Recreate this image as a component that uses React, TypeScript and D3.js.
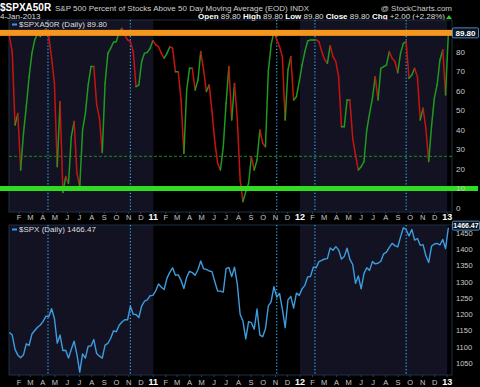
import React, { useEffect } from 'react';
import * as d3 from 'd3';

// weekly closes, Friday Jan 8 2010 .. Friday Jan 4 2013
const firstWeek = new Date(2010, 0, 8);

const breadthValues = [
  87.9, 80.2, 42.5, 48.5, 19.5, 38.3, 52.0, 67.3, 79.3, 86.2, 89.2, 87.9, 90.4, 91.8, 87.9, 76.8,
  63.9, 21.2, 54.5, 7.9, 16.1, 12.6, 36.6, 44.3, 17.8, 10.9, 40.0, 48.5, 63.1, 72.5, 72.5, 53.3,
  46.0, 28.4, 63.9, 79.3, 82.0, 85.0, 85.3, 90.4, 92.1, 88.7, 86.2, 85.3, 80.2, 62.2, 63.1, 75.1,
  79.3, 79.8, 81.9, 85.8, 83.6, 82.7, 79.3, 76.8, 79.3, 82.7, 81.9, 69.9, 69.9, 55.4, 28.0, 60.5,
  71.6, 71.6, 60.5, 65.6, 80.2, 70.8, 59.7, 63.1, 49.4, 34.0, 22.9, 19.5, 31.4, 53.7, 72.5, 45.1,
  63.9, 45.1, 14.4, 3.3, 8.4, 12.6, 26.3, 19.5, 24.6, 40.0, 33.2, 31.4, 69.9, 83.6, 90.4, 86.2,
  82.7, 77.6, 45.1, 70.8, 77.6, 55.4, 57.1, 64.8, 73.3, 80.2, 85.6, 86.2, 86.2, 86.2, 85.3, 80.2,
  76.2, 74.2, 83.2, 77.6, 75.1, 67.3, 41.7, 41.7, 55.4, 55.4, 35.7, 27.2, 19.5, 21.2, 23.8, 40.0,
  48.5, 56.2, 67.3, 55.4, 71.6, 72.5, 73.3, 80.2, 76.8, 75.1, 69.4, 79.3, 84.4, 85.3, 66.5, 68.2,
  71.6, 67.3, 45.1, 51.1, 40.9, 23.8, 41.7, 56.2, 63.1, 75.9, 81.0, 58.0, 89.8,
];

const spxValues = [
  1144, 1136, 1092, 1074, 1066, 1075, 1109, 1104, 1139, 1150, 1160, 1167, 1178, 1194, 1192, 1217,
  1187, 1111, 1136, 1088, 1089, 1065, 1092, 1117, 1076, 1022, 1078, 1065, 1102, 1102, 1122, 1079,
  1071, 1065, 1105, 1110, 1126, 1149, 1146, 1166, 1176, 1183, 1183, 1225, 1200, 1199, 1190, 1225,
  1240, 1244, 1257, 1258,
  1272, 1293, 1283, 1276, 1311, 1329, 1343, 1320, 1321, 1304, 1279, 1314, 1332, 1328, 1320, 1337,
  1364, 1340, 1338, 1333, 1331, 1300, 1271, 1271, 1268, 1340, 1344, 1316, 1345, 1292, 1199, 1179,
  1124, 1177, 1174, 1154, 1216, 1136, 1131, 1155, 1225, 1238, 1285, 1253, 1264, 1216, 1159, 1244,
  1255, 1219, 1265, 1258,
  1278, 1289, 1315, 1316, 1345, 1343, 1362, 1366, 1370, 1371, 1404, 1397, 1408, 1398, 1370, 1378,
  1403, 1369, 1353, 1295, 1318, 1278, 1325, 1343, 1335, 1362, 1355, 1357, 1363, 1386, 1391, 1406,
  1418, 1411, 1407, 1438, 1466, 1460, 1441, 1461, 1428, 1433, 1412, 1414, 1380, 1359, 1409, 1416,
  1418, 1413, 1430, 1402, 1466.47,
];

const markerDates = ['2010-04-14', '2010-11-05', '2011-11-04', '2012-02-07', '2012-09-21'];
const breadthTicks = [0, 10, 20, 30, 40, 50, 60, 70, 80];
const spxTicks = [1050, 1100, 1150, 1200, 1250, 1300, 1350, 1400, 1450];
const overbought = 89.8;
const oversold = 10;
const supportLevel = 26.5;
const monthLetters = ['J', 'F', 'M', 'A', 'M', 'J', 'J', 'A', 'S', 'O', 'N', 'D'];

const font = '"Liberation Sans", Arial, sans-serif';
const GREEN = '#1f9a1f';
const RED = '#c8140f';

const App: React.FC = () => {
  useEffect(() => {
    document.body.style.margin = '0';
    document.body.style.background = '#000';
  }, []);

  const dates = breadthValues.map((_, i) => d3.timeDay.offset(firstWeek, i * 7));
  const x = d3.scaleTime().domain([new Date(2010, 0, 7), new Date(2013, 0, 13)]).range([9, 452]);
  const yTop = d3.scaleLinear().domain([-2.05, 96.4]).range([212, 20]);
  const yBot = d3.scaleLinear().domain([1013, 1474.6]).range([375, 225]);
  const [x0, x1] = x.range();

  const months = d3.timeMonth.range(new Date(2010, 1, 1), new Date(2013, 0, 2));
  const yearBands = [2010, 2012].map(yr => ({
    a: Math.max(x(new Date(yr, 0, 1)), x0),
    b: Math.min(x(new Date(yr + 1, 0, 1)), x1),
  }));

  const spxLine = d3.line<number>()
    .x((_, i) => x(dates[i]))
    .y(d => yBot(d));

  const panels = [
    { top: 20, bottom: 212, labelY: 220 },
    { top: 225, bottom: 375, labelY: 385 },
  ];

  const lastSpx = spxValues[spxValues.length - 1];

  return (
    <svg width={480} height={387} style={{ display: 'block', background: '#000' }} fontFamily={font}>
      {/* header */}
      <text x={0} y={11} fill="#fff" fontSize={10} fontWeight="bold">$SPXA50R</text>
      <text x={55} y={11} fill="#d0d0d0" fontSize={8}>S&amp;P 500 Percent of Stocks Above 50 Day Moving Average (EOD) INDX</text>
      <text x={452} y={11} fill="#ccc" fontSize={8} textAnchor="end">@ StockCharts.com</text>
      <text x={0} y={19} fill="#ddd" fontSize={8}>4-Jan-2013</text>
      <text x={445} y={19} fill="#ddd" fontSize={8} textAnchor="end">
        <tspan fontWeight="bold" fill="#fff">Open</tspan> 89.80{' '}
        <tspan fontWeight="bold" fill="#fff">High</tspan> 89.80{' '}
        <tspan fontWeight="bold" fill="#fff">Low</tspan> 89.80{' '}
        <tspan fontWeight="bold" fill="#fff">Close</tspan> 89.80{' '}
        <tspan fontWeight="bold" fill="#fff">Chg</tspan> +2.00 (+2.28%)
      </text>
      <path d="M446,19 L452,19 L449,15 Z" fill="#2ec62e" />

      {panels.map((p, pi) => (
        <g key={pi}>
          {yearBands.map((b, i) => (
            <rect key={i} x={b.a} y={p.top} width={b.b - b.a} height={p.bottom - p.top} fill="#121222" />
          ))}
          <rect x={x0} y={p.top} width={x1 - x0} height={p.bottom - p.top} fill="none" stroke="#1f2e46" strokeWidth={1} />
          {months.map((m, i) => (
            <line key={i} x1={x(m)} x2={x(m)} y1={p.bottom} y2={p.bottom + 2} stroke="#2a3c58" />
          ))}
          {months.map((m, i) => {
            const jan = m.getMonth() === 0;
            return (
              <text key={'l' + i} x={x(m)} y={p.labelY} textAnchor="middle"
                fill={jan ? '#fff' : '#c8c8c8'} fontSize={jan ? 9 : 7.5} fontWeight={jan ? 'bold' : 'normal'}>
                {jan ? String(m.getFullYear()).slice(2) : monthLetters[m.getMonth()]}
              </text>
            );
          })}
          {markerDates.map(d => (
            <line key={d} x1={x(new Date(d))} x2={x(new Date(d))} y1={p.top} y2={p.bottom}
              stroke="#2fb0f0" strokeWidth={1.2} strokeDasharray="1.2,2" />
          ))}
        </g>
      ))}

      {/* top panel */}
      <line x1={x0} x2={x1} y1={yTop(supportLevel)} y2={yTop(supportLevel)} stroke="#1d8a1d" strokeDasharray="3,2" />
      {breadthValues.slice(1).map((v, i) => (
        <line key={i} x1={x(dates[i])} y1={yTop(breadthValues[i])} x2={x(dates[i + 1])} y2={yTop(v)}
          stroke={v >= breadthValues[i] ? GREEN : RED} strokeWidth={1.5} strokeLinecap="round" />
      ))}
      <rect x={0} y={yTop(overbought) - 3} width={x1} height={6} fill="#f5961e" />
      <rect x={0} y={yTop(oversold) - 2.5} width={478} height={5} fill="#2fdc22" />
      {breadthTicks.map(t => (
        <text key={t} x={456} y={yTop(t) + 3} fill="#c8c8c8" fontSize={8}>{t}</text>
      ))}
      <line x1={12} x2={17} y1={24.5} y2={24.5} stroke="#3a9ae0" strokeWidth={2} />
      <text x={19} y={27} fill="#ddd" fontSize={8}>$SPXA50R (Daily) 89.80</text>
      <rect x={452.5} y={yTop(overbought) - 5} width={26} height={10} fill="#0a1522" stroke="#4f86b8" rx={1} />
      <text x={465.5} y={yTop(overbought) + 3} fill="#fff" fontSize={8} fontWeight="bold" textAnchor="middle">89.80</text>

      {/* bottom panel */}
      <path d={spxLine(spxValues) || ''} fill="none" stroke="#3d9de0" strokeWidth={1.4} strokeLinejoin="round" />
      {spxTicks.map(t => (
        <text key={t} x={456} y={yBot(t) + 3} fill="#c8c8c8" fontSize={7.5}>{t}</text>
      ))}
      <line x1={12} x2={17} y1={229.5} y2={229.5} stroke="#3a9ae0" strokeWidth={2} />
      <text x={19} y={232} fill="#ddd" fontSize={8}>$SPX (Daily) 1466.47</text>
      <rect x={452.5} y={yBot(lastSpx) - 6.5} width={27} height={9} fill="#0a1522" stroke="#4f86b8" rx={1} />
      <text x={466} y={yBot(lastSpx) + 0.8} fill="#fff" fontSize={7} fontWeight="bold" textAnchor="middle">1466.47</text>
    </svg>
  );
};

export default App;
